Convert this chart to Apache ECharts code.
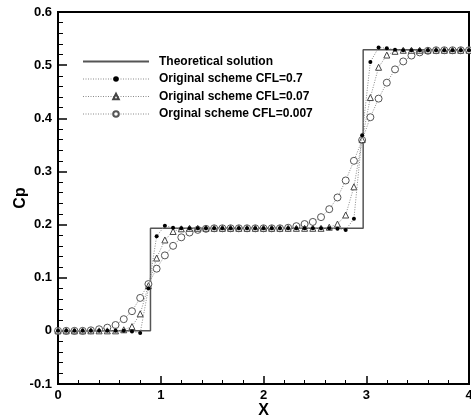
<!DOCTYPE html>
<html>
<head>
<meta charset="utf-8">
<script src="https://cdn.jsdelivr.net/npm/echarts@6/dist/echarts.min.js"></script>
<style>
  html, body { margin: 0; padding: 0; background: #fff; }
  #chart { width: 471px; height: 419px; }
</style>
</head>
<body>
<div id="chart"></div>
<script>
// grid points (x) shared by the three numerical runs
const xValues = [0, 0.08, 0.16, 0.24, 0.32, 0.40, 0.48, 0.56, 0.64, 0.72,
  0.80, 0.88, 0.96, 1.04, 1.12, 1.20, 1.28, 1.36, 1.44, 1.52,
  1.60, 1.68, 1.76, 1.84, 1.92, 2.00, 2.08, 2.16, 2.24, 2.32,
  2.40, 2.48, 2.56, 2.64, 2.72, 2.80, 2.88, 2.96, 3.04, 3.12,
  3.20, 3.28, 3.36, 3.44, 3.52, 3.60, 3.68, 3.76, 3.84, 3.92, 4.00];

// CFL = 0.7 (filled dots)
const cfl07 = [0, 0, 0, 0, 0, 0, 0, 0, 0, -0.001,
  -0.004, 0.080, 0.178, 0.198, 0.194, 0.193, 0.193, 0.193, 0.193, 0.193,
  0.193, 0.193, 0.193, 0.193, 0.193, 0.193, 0.193, 0.193, 0.193, 0.193,
  0.193, 0.193, 0.193, 0.193, 0.192, 0.190, 0.211, 0.368, 0.506, 0.533,
  0.532, 0.529, 0.528, 0.528, 0.528, 0.528, 0.528, 0.528, 0.528, 0.528, 0.528];

// CFL = 0.07 (triangles)
const cfl007 = [0, 0, 0, 0, 0, 0, 0, 0, 0.002, 0.008,
  0.032, 0.085, 0.137, 0.171, 0.187, 0.192, 0.193, 0.193, 0.193, 0.193,
  0.193, 0.193, 0.193, 0.193, 0.193, 0.193, 0.193, 0.193, 0.193, 0.193,
  0.193, 0.193, 0.193, 0.195, 0.201, 0.218, 0.271, 0.360, 0.439, 0.496,
  0.519, 0.526, 0.528, 0.528, 0.528, 0.528, 0.528, 0.528, 0.528, 0.528, 0.528];

// CFL = 0.007 (circles)
const cfl0007 = [0, 0, 0, 0, 0.001, 0.003, 0.006, 0.011, 0.022, 0.037,
  0.062, 0.088, 0.117, 0.142, 0.160, 0.176, 0.185, 0.190, 0.192, 0.193,
  0.193, 0.193, 0.193, 0.193, 0.193, 0.193, 0.193, 0.193, 0.194, 0.197,
  0.201, 0.205, 0.214, 0.229, 0.251, 0.283, 0.320, 0.359, 0.402, 0.437,
  0.467, 0.492, 0.507, 0.518, 0.524, 0.527, 0.528, 0.528, 0.528, 0.528, 0.528];

// theoretical step solution
const theoryX = [0, 0.9, 0.9, 2.97, 2.97, 4];
const theoryY = [0, 0, 0.193, 0.193, 0.529, 0.529];

const names = ['Theoretical solution', 'Original scheme CFL=0.7',
  'Original scheme CFL=0.07', 'Orginal scheme CFL=0.007'];

const font = "'Liberation Sans', Arial, sans-serif";

function pairs(xs, ys) {
  return xs.map((x, i) => [x, ys[i]]);
}

const dotLine = { color: '#8a8a8a', width: 1, type: [1, 1.5] };

const chart = echarts.init(document.getElementById('chart'), null, { renderer: 'canvas' });

chart.setOption({
  animation: false,
  backgroundColor: '#fff',
  grid: {
    left: 58, right: 2, top: 12, bottom: 35,
    outerBoundsMode: 'none', containLabel: false,
    show: true, borderColor: '#000', borderWidth: 2
  },
  legend: {
    orient: 'vertical',
    left: 82, top: 55.5, padding: 0,
    itemWidth: 66, itemHeight: 7, itemGap: 5.5,
    textStyle: { fontFamily: font, fontWeight: 'bold', fontSize: 12, color: '#000', padding: [0, 0, 0, 5] },
    data: [
      { name: names[0], itemStyle: { opacity: 0 }, lineStyle: { width: 2, color: '#555', type: 'solid' } },
      { name: names[1], lineStyle: { width: 1, color: '#8a8a8a', type: [1, 1.5] } },
      { name: names[2], lineStyle: { width: 1, color: '#8a8a8a', type: [1, 1.5] } },
      { name: names[3], lineStyle: { width: 1, color: '#8a8a8a', type: [1, 1.5] } }
    ]
  },
  xAxis: {
    type: 'value', min: 0, max: 4, interval: 1,
    name: 'X', nameLocation: 'middle', nameGap: 19, nameMoveOverlap: false,
    nameTextStyle: { fontFamily: font, fontWeight: 'bold', fontSize: 16, color: '#000' },
    axisLine: { onZero: false, lineStyle: { color: '#000', width: 2 } },
    axisTick: { inside: true, length: 8, lineStyle: { color: '#000', width: 1.5 } },
    minorTick: { show: true, splitNumber: 5, length: 4, lineStyle: { color: '#000', width: 1 } },
    axisLabel: { fontFamily: font, fontWeight: 'bold', fontSize: 13, color: '#000', margin: 5 },
    splitLine: { show: false }
  },
  yAxis: {
    type: 'value', min: -0.1, max: 0.6, interval: 0.1,
    name: 'Cp', nameLocation: 'middle', nameGap: 29, nameMoveOverlap: false,
    nameTextStyle: { fontFamily: font, fontWeight: 'bold', fontSize: 16, color: '#000' },
    axisLine: { onZero: false, lineStyle: { color: '#000', width: 2 } },
    axisTick: { inside: true, length: 9, lineStyle: { color: '#000', width: 1.5 } },
    minorTick: { show: true, splitNumber: 5, length: 5, lineStyle: { color: '#000', width: 1 } },
    axisLabel: {
      fontFamily: font, fontWeight: 'bold', fontSize: 13, color: '#000', margin: 6,
      formatter: v => String(+v.toFixed(1))
    },
    splitLine: { show: false }
  },
  series: [
    {
      name: names[0], type: 'line', data: pairs(theoryX, theoryY),
      symbol: 'none', lineStyle: { color: '#555', width: 1.5 }, z: 2
    },
    {
      name: names[1], type: 'line', data: pairs(xValues, cfl07),
      symbol: 'circle', symbolSize: 4, lineStyle: dotLine,
      itemStyle: { color: '#000' }, z: 5
    },
    {
      name: names[2], type: 'line', data: pairs(xValues, cfl007),
      symbol: 'triangle', symbolSize: 6, lineStyle: dotLine,
      itemStyle: { color: '#fff', borderColor: '#444', borderWidth: 1 }, z: 4
    },
    {
      name: names[3], type: 'line', data: pairs(xValues, cfl0007),
      symbol: 'circle', symbolSize: 7, lineStyle: dotLine,
      itemStyle: { color: '#fff', borderColor: '#555', borderWidth: 1 }, z: 3
    }
  ]
});
</script>
</body>
</html>
